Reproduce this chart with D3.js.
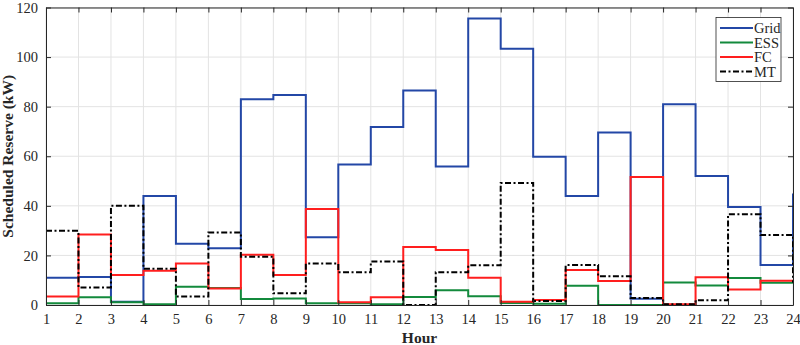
<!DOCTYPE html>
<html>
<head>
<meta charset="utf-8">
<script src="https://cdn.jsdelivr.net/npm/d3@7"></script>
<style>
  html, body { margin: 0; padding: 0; background: #fff; }
  svg { display: block; }
  text { font-family: "Liberation Serif", "Times New Roman", serif; fill: #262626; }
</style>
</head>
<body>
<div id="chart"></div>
<script>
// Hourly scheduled reserve per source (kW)
const hours = d3.range(1, 25);
const grid = [11, 11.3, 1.3, 44, 24.7, 22.9, 83, 84.7, 27.3, 56.7, 71.8, 86.5,
              55.9, 115.6, 103.4, 59.8, 44, 69.6, 2.5, 81, 52, 39.5, 16.1, 45];
const ess  = [0.7, 3.1, 1.1, 0.3, 7.4, 6.9, 2.4, 2.6, 0.7, 0.7, 0.3, 3.2,
              5.9, 3.5, 0.8, 0.5, 7.8, 0, 0, 9.1, 7.9, 10.9, 9, 9];
const fc   = [3.4, 28.4, 12.1, 13.8, 16.7, 6.7, 20.3, 12.1, 38.7, 1.1, 3.1, 23.4,
              22.2, 11, 1.3, 2, 14.1, 9.7, 51.6, 0.3, 11.2, 6.3, 9.8, 10];
const mt   = [29.9, 7.1, 40, 14.6, 3.4, 29.2, 19.5, 4.7, 16.7, 13.2, 17.5, 0,
              13.2, 16, 49.2, 1.6, 16.1, 11.6, 2.8, 0.3, 1.9, 36.6, 28.2, 9];
const yTicks = [0, 20, 40, 60, 80, 100, 120];

const seriesList = [
  { name: "Grid", values: grid, color: "#2347a6", dash: null },
  { name: "ESS",  values: ess,  color: "#138a3c", dash: null },
  { name: "FC",   values: fc,   color: "#ff1e1e", dash: null },
  { name: "MT",   values: mt,   color: "#000000", dash: "6,2.5,2,2.5" }
];

const W = 800, H = 345;
const m = { left: 46, right: 7, top: 7.5, bottom: 40 };

const svg = d3.select("#chart").append("svg")
  .attr("width", W).attr("height", H);

const x = d3.scaleLinear().domain([1, 24]).range([m.left, W - m.right]);
const y = d3.scaleLinear().domain([0, 120]).range([H - m.bottom, m.top]);

// light grid
const gGrid = svg.append("g").attr("stroke", "#e3e3e3").attr("stroke-width", 1);
gGrid.selectAll("line.v").data(hours).join("line")
  .attr("x1", d => x(d)).attr("x2", d => x(d))
  .attr("y1", y(0)).attr("y2", y(120));
gGrid.selectAll("line.h").data(yTicks).join("line")
  .attr("x1", x(1)).attr("x2", x(24))
  .attr("y1", d => y(d)).attr("y2", d => y(d));

// stair lines
const line = d3.line()
  .x((d, i) => x(hours[i]))
  .y(d => y(d))
  .curve(d3.curveStepAfter);

svg.append("g").selectAll("path").data(seriesList).join("path")
  .attr("d", s => line(s.values))
  .attr("fill", "none")
  .attr("stroke", s => s.color)
  .attr("stroke-width", 2)
  .attr("stroke-dasharray", s => s.dash);

// axes (ticks pointing inward, box on all sides)
const axisColor = "#262626";
const axBottom = svg.append("g").attr("transform", `translate(0,${y(0)})`)
  .call(d3.axisBottom(x).tickValues(hours).tickFormat(d3.format("d"))
    .tickSizeInner(-5).tickSizeOuter(0).tickPadding(9));
const axTop = svg.append("g").attr("transform", `translate(0,${y(120)})`)
  .call(d3.axisTop(x).tickValues(hours).tickFormat("")
    .tickSizeInner(-5).tickSizeOuter(0));
const axLeft = svg.append("g").attr("transform", `translate(${x(1)},0)`)
  .call(d3.axisLeft(y).tickValues(yTicks).tickFormat(d3.format("d"))
    .tickSizeInner(-5).tickSizeOuter(0).tickPadding(8));
const axRight = svg.append("g").attr("transform", `translate(${x(24)},0)`)
  .call(d3.axisRight(y).tickValues(yTicks).tickFormat("")
    .tickSizeInner(-5).tickSizeOuter(0));

[axBottom, axTop, axLeft, axRight].forEach(g => {
  g.select(".domain").attr("stroke", axisColor).attr("stroke-width", 1);
  g.selectAll(".tick line").attr("stroke", axisColor);
  g.selectAll(".tick text")
    .attr("font-family", "'Liberation Serif', 'Times New Roman', serif")
    .attr("font-size", 14.5).attr("fill", "#262626");
});

// axis titles
svg.append("text")
  .attr("x", (x(1) + x(24)) / 2).attr("y", 343)
  .attr("text-anchor", "middle")
  .attr("font-size", 15.5).attr("font-weight", "bold")
  .text("Hour");

svg.append("text")
  .attr("transform", `translate(13,${(y(0) + y(120)) / 2}) rotate(-90)`)
  .attr("text-anchor", "middle")
  .attr("font-size", 15.5).attr("font-weight", "bold")
  .text("Scheduled Reserve (kW)");

// legend
const lg = svg.append("g").attr("transform", "translate(716,17.5)");
lg.append("rect")
  .attr("width", 65).attr("height", 64)
  .attr("fill", "#fff").attr("stroke", "#262626").attr("stroke-width", 0.8);
const rows = lg.selectAll("g.row").data(seriesList).join("g")
  .attr("transform", (d, i) => `translate(0,${10.5 + i * 14.5})`);
rows.append("line")
  .attr("x1", 4).attr("x2", 37)
  .attr("stroke", d => d.color).attr("stroke-width", 2)
  .attr("stroke-dasharray", d => d.dash);
rows.append("text")
  .attr("x", 38).attr("dy", "0.35em")
  .attr("font-size", 14.5)
  .text(d => d.name);
</script>
</body>
</html>
